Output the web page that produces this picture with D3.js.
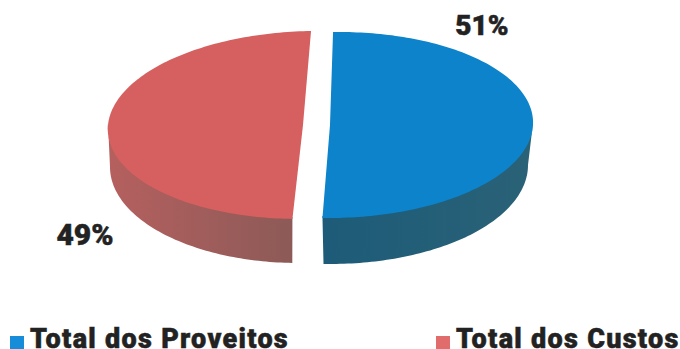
<!DOCTYPE html>
<html>
<head>
<meta charset="utf-8">
<script src="https://cdn.jsdelivr.net/npm/d3@7/dist/d3.min.js"></script>
<style>
html,body{margin:0;padding:0;background:#fff;overflow:hidden}
text{font-family:Roboto,sans-serif;font-weight:900;fill:#222;stroke:#222;stroke-width:.5px}
</style>
</head>
<body>
<svg id="chart" width="680" height="349"></svg>
<script>
const categories = ["Total dos Proveitos", "Total dos Custos"];
const values = [51, 49];
const valueLabels = ["51%", "49%"];
const topColors = ["#0c83ca", "#d5605f"];
const swatchColors = ["#178cd9", "#e06c6c"];
const sideStops = [["#2a6277", "#1d5b78"], ["#b5605f", "#8c5a57"]];

// Per-slice ellipses: top face with its perspective apex, and the narrower base of the rim.
const faces = [
  {cx: 334, cy: 125, rx: 199, ry: 93, skew: -0.054, apex: [330, 125], baseCx: 330, baseCy: 165, baseRx: 198, baseRy: 99},
  {cx: 308, cy: 125, rx: 200, ry: 94, skew: -0.096, apex: [303, 125], baseCx: 298.5, baseCy: 167, baseRx: 188.5, baseRy: 96}
];
const labelPos = [[482, 35], [85, 245]];
const labelSizes = [28, 30];
const legendPos = [[10, 30], [436, 456]];

const svg = d3.select("#chart");
const defs = svg.append("defs");

const pie = d3.pie().sort(null).startAngle(-0.03).endAngle(2 * Math.PI - 0.03);
const slices = pie(values);

const sweep = (a0, a1) => d3.range(a0, a1, 0.02).concat([a1]);
const topRim = (f, a) => [
  f.cx + f.rx * Math.sin(a) - f.skew * f.ry * Math.cos(a),
  f.cy - f.ry * Math.cos(a)
];
const baseRim = (f, a) => [
  f.baseCx + f.baseRx * Math.sin(a),
  f.baseCy - f.baseRy * Math.cos(a)
];

sideStops.forEach((stops, i) => {
  const g = defs.append("linearGradient").attr("id", "side" + i)
    .attr("x1", i ? 0 : 1).attr("x2", i ? 1 : 0).attr("y1", 0).attr("y2", 0);
  g.append("stop").attr("offset", 0).attr("stop-color", stops[0]);
  g.append("stop").attr("offset", 1).attr("stop-color", stops[1]);
});

const outline = d3.line();

// Rims go underneath; their upper edge runs a little behind the top face to avoid a seam.
slices.forEach((s, i) => {
  const f = faces[i];
  const angles = sweep(Math.max(s.startAngle, Math.PI / 2), Math.min(s.endAngle, 3 * Math.PI / 2));
  const upper = angles.map(a => { const p = topRim(f, a); return [p[0], p[1] - 2]; });
  const lower = angles.map(a => baseRim(f, a)).reverse();
  svg.append("path")
    .attr("d", outline(upper.concat(lower)) + "Z")
    .attr("fill", `url(#side${i})`);
});

svg.selectAll("path.face").data(slices).join("path")
  .attr("class", "face")
  .attr("d", (s, i) => {
    const f = faces[i];
    return outline([f.apex].concat(sweep(s.startAngle, s.endAngle).map(a => topRim(f, a)))) + "Z";
  })
  .attr("fill", (d, i) => topColors[i]);

svg.selectAll("text.value").data(valueLabels).join("text")
  .attr("class", "value")
  .attr("x", (d, i) => labelPos[i][0])
  .attr("y", (d, i) => labelPos[i][1])
  .attr("text-anchor", "middle")
  .attr("font-size", (d, i) => labelSizes[i])
  .text(d => d);

const legend = svg.selectAll("g.legend").data(categories).join("g").attr("class", "legend");
legend.append("rect")
  .attr("x", (d, i) => legendPos[i][0])
  .attr("y", 336).attr("width", 14).attr("height", 13)
  .attr("fill", (d, i) => swatchColors[i]);
legend.append("text")
  .attr("x", (d, i) => legendPos[i][1])
  .attr("y", 348)
  .attr("font-size", 27)
  .attr("letter-spacing", 1.3)
  .text(d => d);
</script>
</body>
</html>
